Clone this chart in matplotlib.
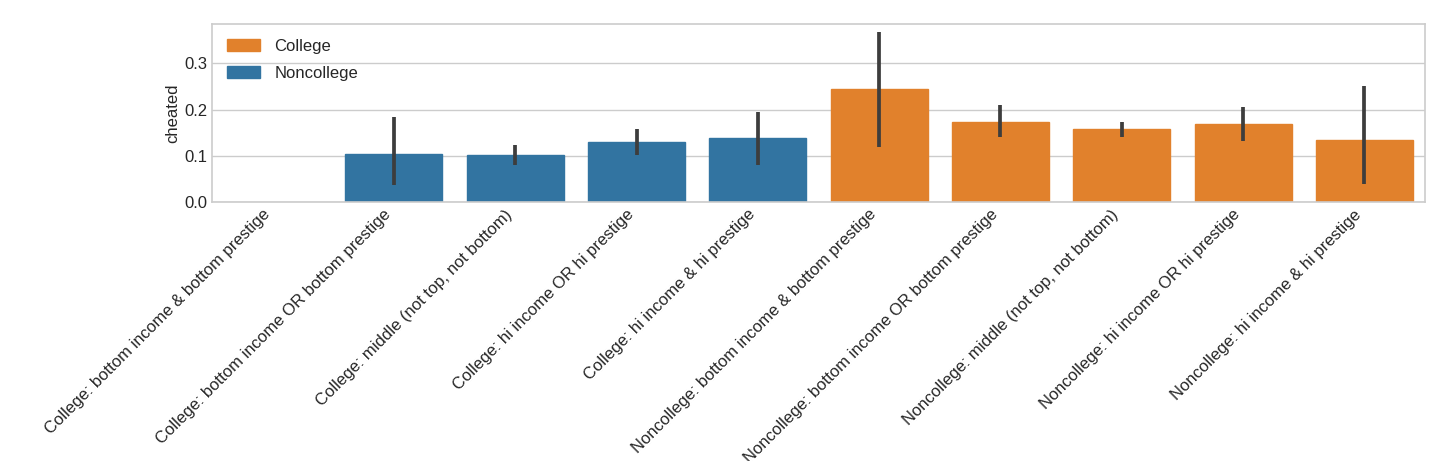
import matplotlib
matplotlib.use("Agg")
import matplotlib.pyplot as plt
import numpy as np

categories = [
    "College: bottom income & bottom prestige",
    "College: bottom income OR bottom prestige",
    "College: middle (not top, not bottom)",
    "College: hi income OR hi prestige",
    "College: hi income & hi prestige",
    "Noncollege: bottom income & bottom prestige",
    "Noncollege: bottom income OR bottom prestige",
    "Noncollege: middle (not top, not bottom)",
    "Noncollege: hi income OR hi prestige",
    "Noncollege: hi income & hi prestige",
]
values = [np.nan, 0.104, 0.101, 0.130, 0.138, 0.244, 0.173, 0.158, 0.168, 0.135]
ci_low = [np.nan, 0.037, 0.080, 0.102, 0.080, 0.119, 0.140, 0.141, 0.132, 0.040]
ci_high = [np.nan, 0.183, 0.123, 0.158, 0.194, 0.367, 0.209, 0.173, 0.206, 0.251]
groups = ["Noncollege"] * 5 + ["College"] * 5
legend_labels = ["College", "Noncollege"]

plt.style.use("seaborn-v0_8-whitegrid")
plt.rcParams["font.family"] = ["Liberation Sans", "DejaVu Sans"]

colors = {"College": "#e1812c", "Noncollege": "#3274a1"}
FS = 12

fig = plt.figure(figsize=(14.56, 4.61), dpi=100)
ax = fig.add_axes([212 / 1456, 1 - 202 / 461, (1425 - 212) / 1456, (202 - 24) / 461])

x = np.arange(len(categories))
for i in range(len(categories)):
    if np.isnan(values[i]):
        continue
    ax.bar(x[i], values[i], width=0.8, color=colors[groups[i]], edgecolor=colors[groups[i]], linewidth=1, zorder=2)
    ax.vlines(x[i], ci_low[i], ci_high[i], color="#3d3d3d", linewidth=2.7, zorder=3)

handles = [plt.Rectangle((0, 0), 1, 1, color=colors[l]) for l in legend_labels]
ax.legend(handles, legend_labels, loc="upper left", frameon=False, fontsize=FS,
          handlelength=2.0, handleheight=0.75, handletextpad=0.85, labelspacing=0.7,
          borderaxespad=0.5)

ax.set_xlim(-0.5, 9.5)
ax.set_ylim(0, 0.385)
ax.set_yticks([0.0, 0.1, 0.2, 0.3])
ax.set_xticks(x)
ax.set_xticklabels(categories, rotation=45, ha="right", fontsize=FS)
ax.tick_params(axis="y", labelsize=FS)
ax.set_ylabel("cheated", fontsize=FS, labelpad=3)
ax.grid(axis="x", visible=False)
ax.grid(axis="y", color="#cccccc", linewidth=1.0)
for s in ax.spines.values():
    s.set_color("#cccccc")
    s.set_linewidth(1.2)
    s.set_visible(True)

fig.savefig("out.png", dpi=100)
